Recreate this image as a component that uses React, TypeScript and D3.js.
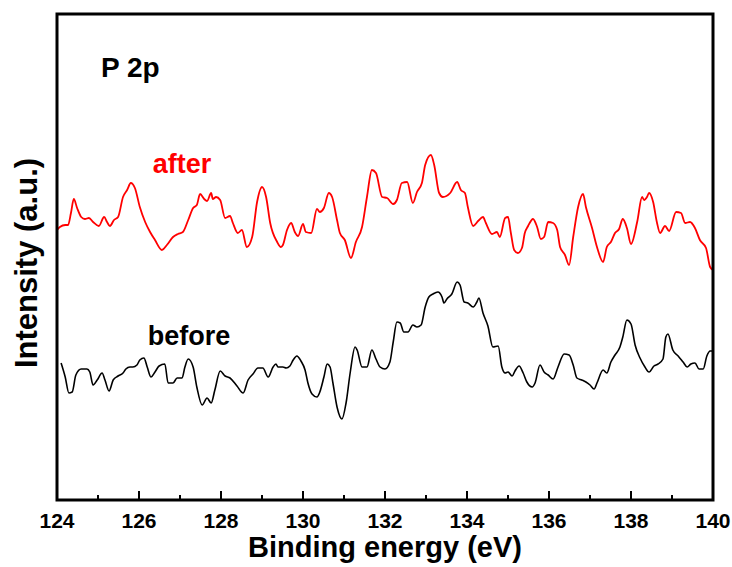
import React from "react";
import * as d3 from "d3";

// P 2p XPS spectra: [binding energy (eV), intensity (a.u.)]
const AFTER: [number, number][] = [
  [124.0, 269], [124.07, 272], [124.2, 274], [124.27, 274], [124.34, 286], [124.41, 300],
  [124.49, 291], [124.59, 282], [124.68, 280], [124.78, 281], [124.88, 277], [125.02, 273],
  [125.15, 282], [125.22, 277], [125.29, 273], [125.39, 279], [125.49, 282], [125.61, 302],
  [125.71, 309], [125.8, 316], [125.9, 311], [126.02, 292], [126.15, 277], [126.27, 267],
  [126.39, 259], [126.56, 249], [126.68, 254], [126.83, 262], [126.95, 265], [127.07, 267],
  [127.2, 279], [127.32, 291], [127.41, 294], [127.49, 305], [127.59, 300], [127.66, 298],
  [127.76, 306], [127.8, 300], [127.88, 302], [127.98, 299], [128.1, 281], [128.22, 283],
  [128.29, 276], [128.41, 266], [128.51, 269], [128.63, 252], [128.76, 262], [128.88, 297],
  [129.0, 312], [129.1, 302], [129.2, 276], [129.37, 257], [129.46, 252], [129.51, 254],
  [129.61, 269], [129.71, 276], [129.8, 267], [129.88, 263], [130.0, 275], [130.07, 267],
  [130.2, 266], [130.34, 290], [130.41, 287], [130.51, 291], [130.63, 306], [130.71, 302],
  [130.83, 279], [130.9, 266], [131.02, 259], [131.17, 241], [131.29, 257], [131.44, 272],
  [131.56, 302], [131.68, 329], [131.78, 326], [131.93, 302], [132.05, 301], [132.2, 295],
  [132.29, 299], [132.41, 316], [132.54, 317], [132.68, 296], [132.78, 307], [132.9, 316],
  [132.98, 334], [133.12, 344], [133.2, 334], [133.32, 306], [133.41, 302], [133.59, 306],
  [133.76, 317], [133.85, 309], [133.95, 306], [134.02, 292], [134.15, 273], [134.27, 278],
  [134.39, 282], [134.46, 276], [134.61, 265], [134.73, 267], [134.8, 262], [134.93, 281],
  [135.0, 282], [135.07, 266], [135.15, 249], [135.24, 246], [135.34, 251], [135.41, 266],
  [135.49, 273], [135.61, 280], [135.71, 272], [135.8, 260], [135.88, 262], [135.98, 277],
  [136.1, 276], [136.2, 269], [136.27, 252], [136.39, 244], [136.49, 234], [136.59, 262],
  [136.71, 292], [136.83, 305], [136.9, 292], [137.05, 271], [137.17, 252], [137.32, 237],
  [137.41, 252], [137.51, 257], [137.61, 266], [137.71, 270], [137.8, 280], [137.9, 271],
  [138.0, 255], [138.15, 277], [138.27, 302], [138.32, 299], [138.39, 302], [138.44, 306],
  [138.54, 297], [138.63, 277], [138.71, 266], [138.83, 273], [138.93, 268], [139.1, 287],
  [139.22, 286], [139.32, 276], [139.44, 277], [139.56, 271], [139.68, 259], [139.83, 251],
  [139.93, 232], [140.0, 229],
];

const BEFORE: [number, number][] = [
  [124.1, 136], [124.2, 122], [124.29, 106], [124.37, 107], [124.46, 124], [124.59, 130],
  [124.73, 130], [124.8, 127], [124.88, 114], [124.98, 119], [125.1, 126], [125.17, 119],
  [125.27, 108], [125.37, 119], [125.49, 123], [125.61, 126], [125.68, 130], [125.78, 132],
  [125.85, 132], [125.95, 134], [126.02, 139], [126.12, 141], [126.2, 132], [126.29, 122],
  [126.39, 127], [126.49, 133], [126.63, 135], [126.71, 116], [126.83, 116], [126.93, 121],
  [127.05, 121], [127.12, 132], [127.2, 140], [127.32, 132], [127.41, 112], [127.54, 94],
  [127.66, 101], [127.76, 96], [127.85, 109], [127.98, 128], [128.1, 123], [128.22, 121],
  [128.39, 113], [128.54, 106], [128.66, 119], [128.78, 125], [128.9, 131], [129.02, 131],
  [129.15, 122], [129.27, 132], [129.34, 135], [129.39, 132], [129.51, 132], [129.59, 131],
  [129.68, 133], [129.76, 139], [129.85, 143], [129.95, 138], [130.05, 129], [130.12, 116],
  [130.22, 105], [130.34, 102], [130.41, 107], [130.51, 122], [130.59, 135], [130.66, 132],
  [130.73, 116], [130.83, 92], [130.95, 80], [131.05, 96], [131.15, 126], [131.27, 152],
  [131.32, 149], [131.44, 132], [131.56, 132], [131.68, 149], [131.78, 140], [131.88, 132],
  [132.0, 130], [132.12, 137], [132.2, 157], [132.29, 177], [132.37, 176], [132.46, 167],
  [132.56, 167], [132.68, 174], [132.78, 172], [132.88, 174], [132.98, 192], [133.07, 202],
  [133.17, 205], [133.29, 207], [133.39, 202], [133.44, 196], [133.51, 200], [133.63, 205],
  [133.76, 217], [133.83, 214], [133.93, 197], [134.02, 196], [134.15, 192], [134.24, 197],
  [134.29, 201], [134.39, 186], [134.51, 173], [134.63, 152], [134.76, 153], [134.85, 132],
  [134.93, 126], [135.0, 127], [135.1, 123], [135.17, 128], [135.27, 133], [135.37, 126],
  [135.46, 117], [135.59, 112], [135.66, 116], [135.78, 134], [135.88, 127], [135.98, 124],
  [136.1, 120], [136.22, 132], [136.37, 145], [136.49, 144], [136.59, 134], [136.68, 121],
  [136.8, 119], [136.9, 117], [137.0, 114], [137.1, 110], [137.17, 116], [137.32, 129],
  [137.41, 126], [137.51, 137], [137.61, 144], [137.73, 152], [137.8, 162], [137.9, 179],
  [138.0, 175], [138.1, 154], [138.22, 141], [138.34, 132], [138.44, 127], [138.56, 133],
  [138.66, 135], [138.78, 140], [138.85, 162], [138.9, 165], [139.02, 149], [139.15, 143],
  [139.27, 137], [139.37, 132], [139.46, 135], [139.56, 136], [139.66, 130], [139.76, 130],
  [139.85, 143], [139.93, 148], [140.0, 148],
];

const X_DOMAIN: [number, number] = [124, 140];
const Y_DOMAIN: [number, number] = [0, 485];
const MAJOR_TICKS = [124, 126, 128, 130, 132, 134, 136, 138, 140];
const MINOR_TICKS = [125, 127, 129, 131, 133, 135, 137, 139];

const FONT = "'Liberation Sans', Arial, Helvetica, sans-serif";

export default function App() {
  const W = 732;
  const H = 567;
  const left = 57;
  const right = 713;
  const top = 14;
  const bottom = 500;

  const x = d3.scaleLinear().domain(X_DOMAIN).range([left, right]);
  const y = d3.scaleLinear().domain(Y_DOMAIN).range([499, top]);

  const line = d3
    .line<[number, number]>()
    .curve(d3.curveMonotoneX)
    .x((d) => x(d[0]))
    .y((d) => y(d[1]));

  return (
    <svg
      width={W}
      height={H}
      style={{ position: "absolute", left: 0, top: 0, background: "#fff" }}
      fontFamily={FONT}
      fontWeight="bold"
    >
      <rect x={0} y={0} width={W} height={H} fill="#fff" />

      <path d={line(AFTER) ?? ""} fill="none" stroke="#ff0000" strokeWidth={1.8} strokeLinejoin="round" />
      <path d={line(BEFORE) ?? ""} fill="none" stroke="#000" strokeWidth={1.6} strokeLinejoin="round" />

      {/* frame */}
      <rect x={left} y={top} width={right - left} height={bottom - top} fill="none" stroke="#000" strokeWidth={3} />

      {/* bottom axis ticks (inward) */}
      {MAJOR_TICKS.map((t) => (
        <line key={"M" + t} x1={x(t)} x2={x(t)} y1={bottom} y2={bottom - 9} stroke="#000" strokeWidth={2} />
      ))}
      {MINOR_TICKS.map((t) => (
        <line key={"m" + t} x1={x(t)} x2={x(t)} y1={bottom} y2={bottom - 5} stroke="#000" strokeWidth={2} />
      ))}
      {MAJOR_TICKS.map((t) => (
        <text key={"l" + t} x={x(t)} y={528} textAnchor="middle" fontSize={21} fill="#000">
          {t}
        </text>
      ))}

      <text x={385} y={557} textAnchor="middle" fontSize={29} fill="#000">
        Binding energy (eV)
      </text>
      <text
        transform="translate(37,263) rotate(-90)"
        textAnchor="middle"
        fontSize={31}
        fill="#000"
      >
        Intensity (a.u.)
      </text>

      <text x={101} y={77} fontSize={28} fill="#000">P 2p</text>
      <text x={182} y={173} textAnchor="middle" fontSize={27} fill="#ff0000">after</text>
      <text x={189} y={345} textAnchor="middle" fontSize={27} fill="#000">before</text>
    </svg>
  );
}
